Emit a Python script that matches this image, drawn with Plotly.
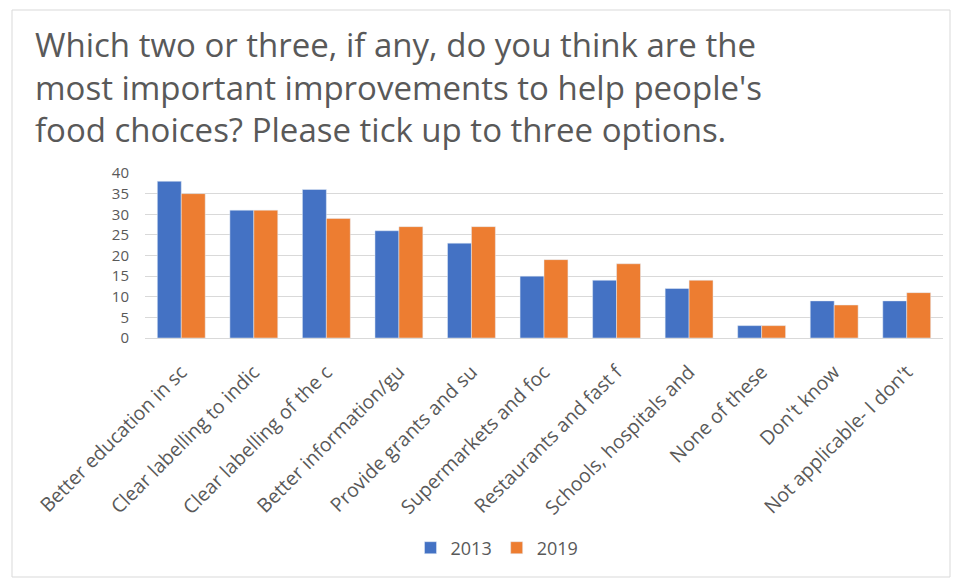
import plotly.graph_objects as go

categories = [
    "Better education in sc",
    "Clear labelling to indic",
    "Clear labelling of the c",
    "Better information/gu",
    "Provide grants and su",
    "Supermarkets and foc",
    "Restaurants and fast f",
    "Schools, hospitals and",
    "None of these",
    "Don't know",
    "Not applicable- I don't",
]
values_2013 = [38, 31, 36, 26, 23, 15, 14, 12, 3, 9, 9]
values_2019 = [35, 31, 29, 27, 27, 19, 18, 14, 3, 8, 11]
title_lines = [
    "Which two or three, if any, do you think are the",
    "most important improvements to help people's",
    "food choices? Please tick up to three options.",
]

W, H = 957, 581
L, R, T, B = 145, 14, 173, 243
pw, ph = W - L - R, H - T - B

def px(x):
    return (x - L) / pw

def py(y):
    return (H - B - y) / ph

FONT = "Open Sans"
GREY = "#595959"

fig = go.Figure()
fig.add_trace(go.Bar(x=categories, y=values_2013, name="2013", marker_color="#4472C4"))
fig.add_trace(go.Bar(x=categories, y=values_2019, name="2019", marker_color="#ED7D31"))

annotations = []
for i, line in enumerate(title_lines):
    annotations.append(dict(
        text=line, xref="paper", yref="paper", x=px(33), y=py(45 + i * 42),
        xanchor="left", yanchor="middle", showarrow=False,
        font=dict(family=FONT, size=33, color=GREY),
    ))

fig.update_layout(
    width=W, height=H,
    margin=dict(l=L, r=R, t=T, b=B),
    paper_bgcolor="white", plot_bgcolor="white",
    barmode="group", bargap=0.34, bargroupgap=0,
    font=dict(family=FONT, color=GREY),
    xaxis=dict(tickangle=-45, tickfont=dict(size=19.5, color=GREY), showgrid=False,
               showline=True, linecolor="#d9d9d9", ticks="", ticklabelstandoff=14),
    yaxis=dict(range=[0, 40], dtick=5, tickfont=dict(size=15, color=GREY),
               gridcolor="#d9d9d9", zeroline=False, ticks="", ticklabelstandoff=15),
    legend=dict(orientation="h", x=px(497), y=py(548), xanchor="center", yanchor="middle",
                font=dict(size=18, color=GREY), traceorder="normal"),
    annotations=annotations,
    shapes=[dict(type="rect", xref="paper", yref="paper",
                 x0=px(12), x1=px(950), y0=py(577), y1=py(10),
                 line=dict(color="#d9d9d9", width=1), fillcolor="rgba(0,0,0,0)", layer="below")],
)

fig.write_html("out.html")
